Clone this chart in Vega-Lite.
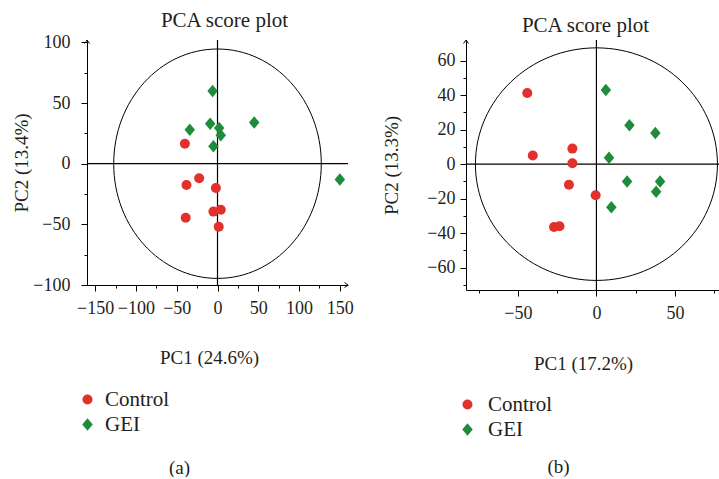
{
  "$schema": "https://vega.github.io/schema/vega-lite/v6.json",
  "padding": {"left": 12, "top": 10, "right": 0, "bottom": 0},
  "background": "white",
  "spacing": 28,
  "datasets": {
    "a": [
      {"pc1": -6, "pc2": 60, "group": "GEI"},
      {"pc1": -34, "pc2": 28, "group": "GEI"},
      {"pc1": -9, "pc2": 33, "group": "GEI"},
      {"pc1": 2, "pc2": 29.5, "group": "GEI"},
      {"pc1": 4, "pc2": 23.5, "group": "GEI"},
      {"pc1": -5, "pc2": 14.5, "group": "GEI"},
      {"pc1": 45, "pc2": 34, "group": "GEI"},
      {"pc1": 150, "pc2": -13, "group": "GEI"},
      {"pc1": -40, "pc2": 16.5, "group": "Control"},
      {"pc1": -38, "pc2": -17.5, "group": "Control"},
      {"pc1": -22.5, "pc2": -12, "group": "Control"},
      {"pc1": -2, "pc2": -20, "group": "Control"},
      {"pc1": -5, "pc2": -39.5, "group": "Control"},
      {"pc1": 4, "pc2": -38, "group": "Control"},
      {"pc1": -39, "pc2": -44.5, "group": "Control"},
      {"pc1": 1.5, "pc2": -52, "group": "Control"}
    ],
    "b": [
      {"pc1": 6, "pc2": 43, "group": "GEI"},
      {"pc1": 21, "pc2": 22.5, "group": "GEI"},
      {"pc1": 37.5, "pc2": 18, "group": "GEI"},
      {"pc1": 8, "pc2": 3.7, "group": "GEI"},
      {"pc1": 19.5, "pc2": -10, "group": "GEI"},
      {"pc1": 40.5, "pc2": -10, "group": "GEI"},
      {"pc1": 38, "pc2": -16, "group": "GEI"},
      {"pc1": 9.5, "pc2": -25, "group": "GEI"},
      {"pc1": -44, "pc2": 41.3, "group": "Control"},
      {"pc1": -40.5, "pc2": 5, "group": "Control"},
      {"pc1": -15.3, "pc2": 9, "group": "Control"},
      {"pc1": -15.3, "pc2": 0.5, "group": "Control"},
      {"pc1": -17.5, "pc2": -12, "group": "Control"},
      {"pc1": -0.5, "pc2": -18, "group": "Control"},
      {"pc1": -27, "pc2": -36.5, "group": "Control"},
      {"pc1": -23.5, "pc2": -36, "group": "Control"}
    ],
    "zero": [{"v": 0}],
    "origin": [{"cx": 0, "cy": 0}],
    "cornersA": [{"ux": -160, "uy": 102, "rx": 160, "ry": -100}],
    "cornersB": [{"ux": -83, "uy": 72, "rx": 78, "ry": -73}]
  },
  "hconcat": [
    {
      "title": {"text": "PCA score plot", "frame": "group", "anchor": "middle", "offset": 2, "dx": 7},
      "width": 261,
      "height": 245,
      "resolve": {"axis": {"x": "independent", "y": "independent"}},
      "layer": [
        {
          "data": {"name": "zero"},
          "mark": {"type": "rule", "color": "black", "strokeWidth": 1.2},
          "encoding": {
            "x": {"field": "v", "type": "quantitative", "scale": {"domain": [-160, 160], "nice": false, "zero": false},
              "axis": {"orient": "bottom", "values": [-125, -75, -25, 25, 75, 125], "tickSize": 3, "labels": false, "domain": false, "title": "(a)", "titleX": 92, "titleY": 182, "titleBaseline": "middle"}}
          }
        },
        {
          "data": {"name": "zero"},
          "mark": {"type": "rule", "color": "black", "strokeWidth": 1.2},
          "encoding": {
            "y": {"field": "v", "type": "quantitative", "scale": {"domain": [-100, 102], "nice": false, "zero": false},
              "axis": {"orient": "left", "values": [-75, -25, 25, 75], "tickSize": 3, "labels": false, "domain": false, "title": null}}
          }
        },
        {
          "data": {"name": "origin"},
          "mark": {"type": "point", "shape": "M-1,0C-1,-0.6103,-0.5523,-1.105,0,-1.105C0.5523,-1.105,1,-0.6103,1,0C1,0.6103,0.5523,1.105,0,1.105C-0.5523,1.105,-1,0.6103,-1,0Z", "size": 43098, "filled": false, "color": "black", "stroke": "black", "strokeWidth": 1, "opacity": 1},
          "encoding": {
            "x": {"field": "cx", "type": "quantitative", "scale": {"domain": [-160, 160], "nice": false, "zero": false}, "axis": null},
            "y": {"field": "cy", "type": "quantitative", "scale": {"domain": [-100, 102], "nice": false, "zero": false}, "axis": null}
          }
        },
        {
          "data": {"name": "cornersA"},
          "mark": {"type": "point", "shape": "M-0.7,1L0,0L0.7,1", "size": 49, "filled": false, "color": "black", "stroke": "black", "strokeWidth": 1, "opacity": 1},
          "encoding": {
            "x": {"field": "ux", "type": "quantitative", "scale": {"domain": [-160, 160], "nice": false, "zero": false}, "axis": null},
            "y": {"field": "uy", "type": "quantitative", "scale": {"domain": [-100, 102], "nice": false, "zero": false}, "axis": null}
          }
        },
        {
          "data": {"name": "cornersA"},
          "mark": {"type": "point", "shape": "M-1,-0.7L0,0L-1,0.7", "size": 49, "filled": false, "color": "black", "stroke": "black", "strokeWidth": 1, "opacity": 1},
          "encoding": {
            "x": {"field": "rx", "type": "quantitative", "scale": {"domain": [-160, 160], "nice": false, "zero": false}, "axis": null},
            "y": {"field": "ry", "type": "quantitative", "scale": {"domain": [-100, 102], "nice": false, "zero": false}, "axis": null}
          }
        },
        {
          "data": {"name": "a"},
          "mark": {"type": "point", "filled": true, "opacity": 1, "size": 100, "strokeWidth": 0},
          "encoding": {
            "x": {"field": "pc1", "type": "quantitative", "scale": {"domain": [-160, 160], "nice": false, "zero": false},
              "axis": {"orient": "bottom", "values": [-150, -100, -50, 0, 50, 100, 150], "tickSize": 6, "labelPadding": 8, "title": "PC1 (24.6%)", "titleX": 122, "titleY": 72, "titleBaseline": "middle"}},
            "y": {"field": "pc2", "type": "quantitative", "scale": {"domain": [-100, 102], "nice": false, "zero": false},
              "axis": {"orient": "left", "values": [-100, -50, 0, 50, 100], "tickSize": 6, "labelPadding": 11, "title": "PC2 (13.4%)", "titlePadding": 1}},
            "color": {"field": "group", "type": "nominal", "scale": {"domain": ["Control", "GEI"], "range": ["#e2302c", "#1d8c3b"]},
              "legend": {"orient": "none", "legendX": -10, "legendY": 349, "title": null, "labelOffset": 7, "rowPadding": 3, "padding": 0, "symbolSize": 100}},
            "shape": {"field": "group", "type": "nominal", "scale": {"domain": ["Control", "GEI"], "range": ["circle", "M-1.05,0L0,-1.25L1.05,0L0,1.25Z"]},
              "legend": {"orient": "none", "legendX": -10, "legendY": 349, "title": null, "labelOffset": 7, "rowPadding": 3, "padding": 0, "symbolSize": 100}}
          }
        }
      ]
    },
    {
      "title": {"text": "PCA score plot", "frame": "group", "anchor": "middle", "offset": 2, "dx": -7},
      "width": 253,
      "height": 250,
      "resolve": {"axis": {"x": "independent", "y": "independent"}},
      "layer": [
        {
          "data": {"name": "zero"},
          "mark": {"type": "rule", "color": "black", "strokeWidth": 1.2},
          "encoding": {
            "x": {"field": "v", "type": "quantitative", "scale": {"domain": [-83, 78], "nice": false, "zero": false},
              "axis": {"orient": "bottom", "values": [-75, -25, 25, 75], "tickSize": 3, "labels": false, "domain": false, "title": "(b)", "titleX": 92, "titleY": 176, "titleBaseline": "middle"}}
          }
        },
        {
          "data": {"name": "zero"},
          "mark": {"type": "rule", "color": "black", "strokeWidth": 1.2},
          "encoding": {
            "y": {"field": "v", "type": "quantitative", "scale": {"domain": [-73, 72], "nice": false, "zero": false},
              "axis": {"orient": "left", "values": [-70, -50, -30, -10, 10, 30, 50], "tickSize": 3, "labels": false, "domain": false, "title": null}}
          }
        },
        {
          "data": {"name": "origin"},
          "mark": {"type": "point", "shape": "M-1,0C-1,-0.5308,-0.5523,-0.961,0,-0.961C0.5523,-0.961,1,-0.5308,1,0C1,0.5308,0.5523,0.961,0,0.961C-0.5523,0.961,-1,0.5308,-1,0Z", "size": 58564, "filled": false, "color": "black", "stroke": "black", "strokeWidth": 1, "opacity": 1},
          "encoding": {
            "x": {"field": "cx", "type": "quantitative", "scale": {"domain": [-83, 78], "nice": false, "zero": false}, "axis": null},
            "y": {"field": "cy", "type": "quantitative", "scale": {"domain": [-73, 72], "nice": false, "zero": false}, "axis": null}
          }
        },
        {
          "data": {"name": "cornersB"},
          "mark": {"type": "point", "shape": "M-0.7,1L0,0L0.7,1", "size": 49, "filled": false, "color": "black", "stroke": "black", "strokeWidth": 1, "opacity": 1},
          "encoding": {
            "x": {"field": "ux", "type": "quantitative", "scale": {"domain": [-83, 78], "nice": false, "zero": false}, "axis": null},
            "y": {"field": "uy", "type": "quantitative", "scale": {"domain": [-73, 72], "nice": false, "zero": false}, "axis": null}
          }
        },
        {
          "data": {"name": "b"},
          "mark": {"type": "point", "filled": true, "opacity": 1, "size": 100, "strokeWidth": 0},
          "encoding": {
            "x": {"field": "pc1", "type": "quantitative", "scale": {"domain": [-83, 78], "nice": false, "zero": false},
              "axis": {"orient": "bottom", "values": [-50, 0, 50], "tickSize": 6, "labelPadding": 8, "title": "PC1 (17.2%)", "titleX": 117, "titleY": 73, "titleBaseline": "middle"}},
            "y": {"field": "pc2", "type": "quantitative", "scale": {"domain": [-73, 72], "nice": false, "zero": false},
              "axis": {"orient": "left", "values": [-60, -40, -20, 0, 20, 40, 60], "tickSize": 6, "labelPadding": 5, "title": "PC2 (13.3%)", "titlePadding": 25}},
            "color": {"field": "group", "type": "nominal", "scale": {"domain": ["Control", "GEI"], "range": ["#e2302c", "#1d8c3b"]},
              "legend": {"orient": "none", "legendX": -9, "legendY": 354, "title": null, "labelOffset": 10, "rowPadding": 3, "padding": 0, "symbolSize": 100}},
            "shape": {"field": "group", "type": "nominal", "scale": {"domain": ["Control", "GEI"], "range": ["circle", "M-1.05,0L0,-1.25L1.05,0L0,1.25Z"]},
              "legend": {"orient": "none", "legendX": -9, "legendY": 354, "title": null, "labelOffset": 10, "rowPadding": 3, "padding": 0, "symbolSize": 100}}
          }
        }
      ]
    }
  ],
  "resolve": {"scale": {"color": "independent", "shape": "independent"}},
  "config": {
    "font": "Liberation Serif",
    "view": {"stroke": null},
    "title": {"font": "Liberation Serif", "fontSize": 21, "fontWeight": "normal", "color": "#231f20"},
    "axis": {"labelFont": "Liberation Serif", "titleFont": "Liberation Serif", "labelFontSize": 18, "titleFontSize": 19, "titleFontWeight": "normal", "labelColor": "#231f20", "titleColor": "#231f20", "domainColor": "black", "tickColor": "black", "grid": false, "labelFlush": false, "labelOverlap": false},
    "legend": {"labelFont": "Liberation Serif", "labelFontSize": 21, "labelColor": "#231f20", "symbolStrokeWidth": 0}
  }
}
